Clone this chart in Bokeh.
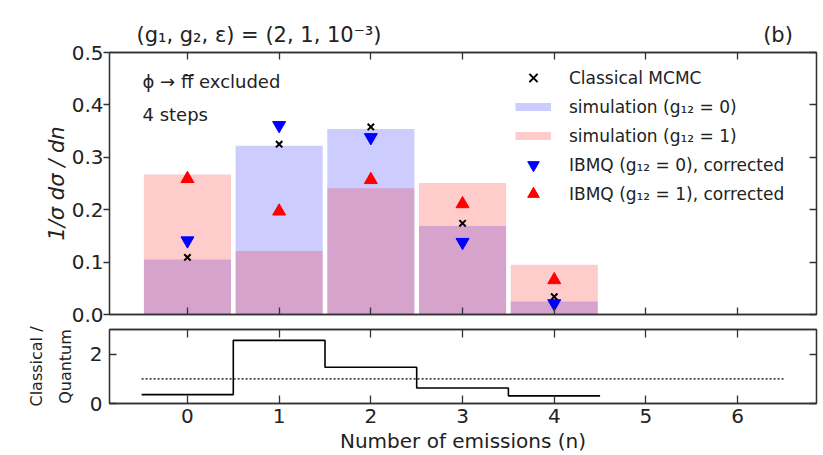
from bokeh.plotting import figure
from bokeh.models import (Range1d, FixedTicker, LinearAxis, Label, Legend, LegendItem,
                          PrintfTickFormatter, CustomLabelingPolicy)
from bokeh.layouts import column
from bokeh.embed import file_html
from bokeh.resources import INLINE

# ---------------- data ----------------
n_emissions = [0, 1, 2, 3, 4]
sim_g12_0 = [0.105, 0.322, 0.354, 0.169, 0.025]
sim_g12_1 = [0.267, 0.121, 0.241, 0.251, 0.095]
classical_mcmc = [0.109, 0.325, 0.358, 0.174, 0.034]
ibmq_g12_0 = [0.141, 0.361, 0.338, 0.138, 0.021]
ibmq_g12_1 = [0.259, 0.197, 0.257, 0.211, 0.066]
ratio_cq = [0.36, 2.56, 1.47, 0.63, 0.31]
ratio_ref = 1.0

x_ticks = [0, 1, 2, 3, 4, 5, 6]
y_ticks_top = [0.0, 0.1, 0.2, 0.3, 0.4, 0.5]
y_ticks_bottom = [0, 2]

params_text = "(g₁, g₂, ε) = (2, 1, 10⁻³)"
panel_tag = "(b)"

# ---------------- style ----------------
FONT = "DejaVu Sans"
TXT = "#222222"
AX = "#333333"
W = 823
H1 = 326
NAN = float("nan")

xr = Range1d(-0.85, 6.86)


def style_axis(ax, ticks, tick_in, tick_out, show_labels=True, fmt=None, standoff=5):
    ax.ticker = FixedTicker(ticks=ticks)
    ax.minor_tick_line_color = None
    ax.major_tick_in = tick_in
    ax.major_tick_out = tick_out
    ax.axis_line_color = AX
    ax.axis_line_width = 1.3
    ax.major_tick_line_color = AX
    ax.major_tick_line_width = 1.3
    ax.major_label_text_font = FONT
    ax.major_label_text_color = TXT
    ax.major_label_text_font_size = "20px"
    ax.major_label_standoff = standoff
    if fmt is not None:
        ax.formatter = fmt
    if not show_labels:
        ax.major_label_text_font_size = "0px"
        ax.major_label_standoff = 0
        ax.major_label_policy = CustomLabelingPolicy(code="return new Set()")


# ---------------- top panel ----------------
p1 = figure(width=W, height=H1, x_range=xr, y_range=Range1d(0, 0.5),
            output_backend="svg", toolbar_location=None,
            min_border_left=109, min_border_right=7, min_border_top=52,
            min_border_bottom=H1 - 314)
p1.grid.visible = False
p1.outline_line_color = AX
p1.outline_line_width = 1.3
p1.background_fill_color = "white"
p1.border_fill_color = "white"

p1.vbar(x=n_emissions, top=sim_g12_0, width=0.95, fill_color="blue",
        fill_alpha=0.2, line_color=None)
p1.vbar(x=n_emissions, top=sim_g12_1, width=0.95, fill_color="red",
        fill_alpha=0.2, line_color=None)
r_down = p1.scatter(x=n_emissions, y=ibmq_g12_0, marker="inverted_triangle",
                    size=13, fill_color="blue", line_color="blue")
r_up = p1.scatter(x=n_emissions, y=ibmq_g12_1, marker="triangle",
                  size=13, fill_color="red", line_color="red")
r_x = p1.scatter(x=n_emissions, y=classical_mcmc, marker="x", size=9,
                 line_color="black", line_width=2)

# legend proxies for the bar series (invisible, NaN data)
proxy_b = p1.line(x=[NAN], y=[NAN], line_color="blue", line_alpha=0.2, line_width=8)
proxy_r = p1.line(x=[NAN], y=[NAN], line_color="red", line_alpha=0.2, line_width=8)

style_axis(p1.xaxis[0], x_ticks, 7, 0, show_labels=False)
style_axis(p1.yaxis[0], y_ticks_top, 0, 6, fmt=PrintfTickFormatter(format="%.1f"), standoff=0)
p1.yaxis[0].axis_label = "1/σ dσ / dn"
p1.yaxis[0].axis_label_text_font = FONT
p1.yaxis[0].axis_label_text_font_style = "italic"
p1.yaxis[0].axis_label_text_font_size = "21px"
p1.yaxis[0].axis_label_text_color = TXT
p1.yaxis[0].axis_label_standoff = 0

ax_top = LinearAxis()
style_axis(ax_top, x_ticks, 7, 0, show_labels=False)
p1.add_layout(ax_top, "above")

# header texts placed above the frame (title row): parameters left, panel tag right
hdr_pos = [0.78, 6.44]
ax_hdr = LinearAxis(ticker=FixedTicker(ticks=hdr_pos),
                    major_label_overrides={hdr_pos[0]: params_text, hdr_pos[1]: panel_tag})
ax_hdr.axis_line_color = None
ax_hdr.major_tick_line_color = None
ax_hdr.minor_tick_line_color = None
ax_hdr.major_tick_in = 0
ax_hdr.major_tick_out = 0
ax_hdr.major_label_standoff = 6
ax_hdr.major_label_text_font = FONT
ax_hdr.major_label_text_font_size = "21px"
ax_hdr.major_label_text_color = TXT
p1.add_layout(ax_hdr, "above")

ax_right = LinearAxis()
style_axis(ax_right, y_ticks_top, 7, 0, show_labels=False)
p1.add_layout(ax_right, "right")

legend = Legend(items=[
    LegendItem(label="Classical MCMC", renderers=[r_x]),
    LegendItem(label="simulation (g₁₂ = 0)", renderers=[proxy_b]),
    LegendItem(label="simulation (g₁₂ = 1)", renderers=[proxy_r]),
    LegendItem(label="IBMQ (g₁₂ = 0), corrected", renderers=[r_down]),
    LegendItem(label="IBMQ (g₁₂ = 1), corrected", renderers=[r_up]),
], location=(406, 106), glyph_width=36, glyph_height=29, label_height=29,
    spacing=0, padding=0, margin=0, label_standoff=18,
    border_line_color=None, background_fill_alpha=0,
    label_text_font=FONT, label_text_font_size="17px", label_text_color=TXT)
p1.add_layout(legend)

p1.add_layout(Label(x=-0.49, y=0.444, text="ϕ → ff\u0305 excluded", text_font=FONT,
                    text_font_size="18px", text_color=TXT,
                    text_baseline="middle", text_align="left"))
p1.add_layout(Label(x=-0.49, y=0.381, text="4 steps", text_font=FONT,
                    text_font_size="18px", text_color=TXT,
                    text_baseline="middle", text_align="left"))

# ---------------- bottom panel ----------------
p2 = figure(width=W, height=455 - H1, x_range=xr, y_range=Range1d(0, 3.0),
            output_backend="svg", toolbar_location=None,
            min_border_left=109, min_border_right=7, min_border_top=329 - H1,
            min_border_bottom=51)
p2.grid.visible = False
p2.outline_line_color = AX
p2.outline_line_width = 1.3
p2.background_fill_color = "white"
p2.border_fill_color = "white"

edges = [v - 0.5 for v in n_emissions] + [n_emissions[-1] + 0.5]
p2.step(x=edges, y=ratio_cq + [ratio_cq[-1]], mode="after", line_color="black",
        line_width=1.6)
p2.line(x=[x_ticks[0] - 0.5, x_ticks[-1] + 0.5], y=[ratio_ref, ratio_ref],
        line_color="black", line_width=1.3, line_dash="2 2")

style_axis(p2.xaxis[0], x_ticks, 8, 0, standoff=5)
p2.xaxis[0].axis_label = "Number of emissions (n)"
p2.xaxis[0].axis_label_text_font = FONT
p2.xaxis[0].axis_label_text_font_style = "normal"
p2.xaxis[0].axis_label_text_font_size = "20px"
p2.xaxis[0].axis_label_text_color = TXT
p2.xaxis[0].axis_label_standoff = 3

style_axis(p2.yaxis[0], y_ticks_bottom, 7, 0, standoff=7)
p2.yaxis[0].axis_label = "Classical /\nQuantum"
p2.yaxis[0].axis_label_text_font = FONT
p2.yaxis[0].axis_label_text_font_style = "normal"
p2.yaxis[0].axis_label_text_font_size = "16px"
p2.yaxis[0].axis_label_text_line_height = 1.5
p2.yaxis[0].axis_label_text_color = TXT
p2.yaxis[0].axis_label_standoff = 12

ax_top2 = LinearAxis()
style_axis(ax_top2, x_ticks, 8, 0, show_labels=False)
p2.add_layout(ax_top2, "above")
ax_right2 = LinearAxis()
style_axis(ax_right2, y_ticks_bottom, 7, 0, show_labels=False)
p2.add_layout(ax_right2, "right")

layout = column(p1, p2, spacing=0)
open("out.html", "w").write(file_html(layout, INLINE))
